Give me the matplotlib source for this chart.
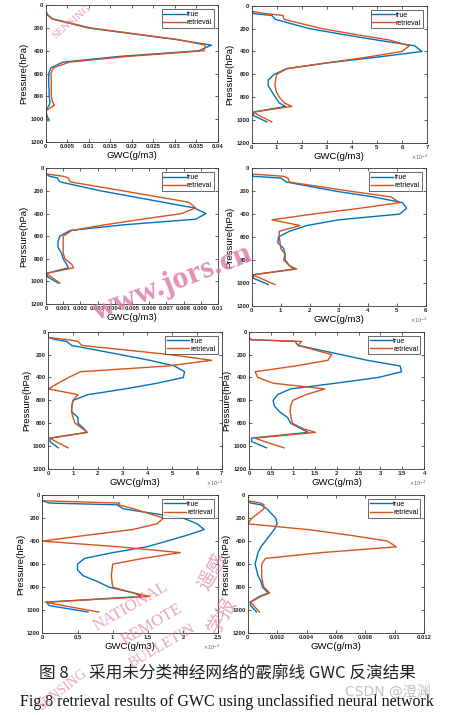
import matplotlib
matplotlib.use("Agg")
import matplotlib.pyplot as plt
from matplotlib.ticker import MultipleLocator, FuncFormatter

# pressure levels (hPa), shared by all panels
pres = [50, 70, 85, 120, 200, 250, 300, 350, 400, 450, 500, 550, 600, 650,
        700, 750, 800, 850, 880, 930, 960, 1015]

# GWC values (panels with x10^-3 are stored in axis units)
true1 = [0, 0.0002, 0.0004, 0.0015, 0.010, 0.020, 0.030, 0.0385, 0.0355, 0.017, 0.004,
         0.0012, 0.0007, 0.0007, 0.0007, 0.0008, 0.0008, 0.0010, 0.0008, 0.0, 0.0002, 0.0008]
retr1 = [0, 0.0003, 0.0005, 0.0017, 0.0105, 0.0205, 0.0305, 0.037, 0.0368, 0.019, 0.0055,
         0.0018, 0.0012, 0.0013, 0.0013, 0.0013, 0.0013, 0.0016, 0.0020, 0.0, 0.0, 0.0004]
true2 = [0, 0.1, 0.8, 0.95, 2.3, 3.6, 5.0, 6.5, 6.8, 5.0, 3.0,
         1.4, 0.9, 0.66, 0.66, 0.8, 0.95, 1.1, 1.35, 0.07, 0.07, 0.6]
retr2 = [0, 0.6, 1.25, 1.3, 2.8, 4.1, 5.5, 6.3, 6.0, 4.6, 3.0,
         1.4, 1.0, 0.95, 0.93, 0.98, 1.1, 1.3, 1.6, 0.07, 0.3, 0.8]
true3 = [0, 0.0002, 0.00066, 0.0008, 0.0032, 0.005, 0.0068, 0.0086, 0.0093, 0.0087, 0.0045,
         0.0014, 0.0008, 0.0007, 0.0007, 0.0009, 0.001, 0.0012, 0.0013, 0.0, 0.0001, 0.0007]
retr3 = [0, 0.001, 0.0013, 0.0014, 0.0045, 0.0064, 0.0083, 0.0087, 0.0079, 0.0056, 0.0034,
         0.0015, 0.001, 0.001, 0.001, 0.001, 0.0011, 0.0015, 0.0016, 0.0, 0.0003, 0.0008]
true4 = [0, 0.05, 1.0, 1.2, 2.9, 4.2, 5.2, 5.34, 5.1, 3.0, 1.9,
         1.3, 0.92, 0.9, 1.1, 1.15, 1.15, 1.3, 1.45, 0.06, 0.06, 0.57]
retr4 = [0, 1.1, 1.25, 1.3, 3.4, 4.8, 5.1, 3.7, 2.1, 0.7, 1.67,
         0.95, 0.95, 0.98, 1.0, 1.15, 1.1, 1.3, 1.55, 0.02, 0.3, 0.8]
true5 = [0, 0.3, 0.74, 0.94, 2.9, 4.1, 5.1, 5.5, 5.45, 4.4, 3.1,
         1.6, 1.0, 0.95, 0.94, 1.2, 1.2, 1.45, 1.57, 0.07, 0.07, 0.4]
retr5 = [0, 0.8, 1.2, 1.35, 4.9, 6.6, 4.8, 1.3, 0.82, 0.4, 0.0,
         1.2, 1.0, 0.95, 0.94, 1.0, 1.08, 1.4, 1.57, 0.07, 0.3, 0.8]
true6 = [0, 0.05, 1.05, 1.12, 2.1, 2.7, 3.45, 3.48, 2.95, 1.98, 0.95,
         0.65, 0.55, 0.58, 0.7, 0.88, 0.95, 1.2, 1.35, 0.06, 0.06, 0.4]
retr6 = [0, 0.05, 1.2, 1.12, 1.89, 1.8, 1.05, 0.14, 0.2, 0.55, 1.73,
         1.3, 1.0, 0.95, 0.94, 0.96, 0.99, 1.25, 1.52, 0.14, 0.35, 0.8]
true7 = [0, 0.1, 1.06, 1.15, 2.0, 2.2, 2.3, 2.05, 1.77, 1.48, 1.0,
         0.6, 0.5, 0.5, 0.58, 0.78, 0.95, 1.3, 1.41, 0.06, 0.1, 0.65]
retr7 = [0, 1.1, 1.08, 1.3, 1.72, 1.63, 1.28, 0.62, 0.0, 1.1, 1.96,
         1.43, 1.0, 0.99, 0.98, 0.99, 1.0, 1.3, 1.53, 0.04, 0.3, 0.8]
true8 = [0, 0.0002, 0.0009, 0.0013, 0.0019, 0.002, 0.0018, 0.0015, 0.0012, 0.0009, 0.0007,
         0.0006, 0.0005, 0.0006, 0.0007, 0.0009, 0.001, 0.0014, 0.0008, 0.00016, 0.0002, 0.0006]
retr8 = [0, 0.0009, 0.0011, 0.0011, 0.0003, 0.0, 0.0041, 0.007, 0.0095, 0.0101, 0.005,
         0.0012, 0.00095, 0.00095, 0.00095, 0.001, 0.0011, 0.0015, 0.0009, 0.0002, 0.0004, 0.0008]

trues = [true1, true2, true3, true4, true5, true6, true7, true8]
retrs = [retr1, retr2, retr3, retr4, retr5, retr6, retr7, retr8]
xmaxs = [0.04, 7, 0.01, 6, 7, 4, 2.5, 0.012]
xsteps = [0.005, 1, 0.001, 1, 1, 0.5, 0.5, 0.002]
sci = [False, True, False, True, True, True, True, False]
ylabels = ['Pressure(hPa)', 'Pressure(hPa)', 'Perssure(hPa)', 'Pressure(hPa)',
           'Pressure(hPa)', 'Pressure(hPa)', 'Pressure(hPa)', 'Pressure(hPa)']
legend_labels = ['true', 'retrieval']
caption_cn = '图 8　 采用未分类神经网络的霰廓线 GWC 反演结果'
caption_en = 'Fig.8 retrieval results of GWC using unclassified neural network'

W, H = 454, 715
# axes boxes in pixels: left, right, top, bottom
boxes = [(45.7, 218, 5.3, 141.7), (251.7, 427, 5.7, 143),
         (46, 218, 168.3, 304), (251.7, 425.7, 168.3, 305.7),
         (48.3, 221.7, 331.7, 469), (249, 424.3, 331.7, 469),
         (42.3, 218.3, 495, 633.3), (247.7, 424.3, 495, 633.3)]

BLUE = '#0072BD'
RED = '#D95319'
PINK = '#dc7fa8'
FONT = 'Liberation Sans'
CJK = ['Noto Sans CJK SC', 'DejaVu Sans']

fig = plt.figure(figsize=(W / 100, H / 100), dpi=100)
fig.patch.set_facecolor('white')

for i in range(8):
    l, r, t, b = boxes[i]
    ax = fig.add_axes([l / W, 1 - b / H, (r - l) / W, (b - t) / H])
    ax.plot(trues[i], pres, color=BLUE, lw=1.0, label=legend_labels[0])
    ax.plot(retrs[i], pres, color=RED, lw=1.0, label=legend_labels[1])
    ax.set_xlim(0, xmaxs[i])
    ax.set_ylim(1200, 0)
    ax.xaxis.set_major_locator(MultipleLocator(xsteps[i]))
    ax.yaxis.set_major_locator(MultipleLocator(200))
    ax.xaxis.set_major_formatter(FuncFormatter(lambda v, p: '%g' % round(v, 6)))
    ax.tick_params(direction='in', length=2, width=0.5, labelsize=4.2, pad=1.5,
                   top=True, right=True, colors='#222222')
    for lab in ax.get_xticklabels() + ax.get_yticklabels():
        lab.set_fontweight('bold')
        lab.set_fontfamily(FONT)
    for s in ax.spines.values():
        s.set_linewidth(0.6)
        s.set_color('#333333')
    ax.set_xlabel('GWC(g/m3)', fontsize=6.8, fontfamily=FONT, labelpad=1.5)
    ax.set_ylabel(ylabels[i], fontsize=6.8, fontfamily=FONT, labelpad=1.5)
    if sci[i]:
        ax.text(0.96, -0.105, r'$\times10^{-3}$', transform=ax.transAxes,
                fontsize=3.5, ha='center', va='center', color='#555555')
    leg = ax.legend(loc='upper right', frameon=True, fancybox=False,
                    handlelength=3.2, handletextpad=0.2, labelspacing=0.15,
                    borderpad=0.25, borderaxespad=0.6,
                    prop={'family': FONT, 'size': 5})
    leg.get_frame().set_edgecolor('#222222')
    leg.get_frame().set_linewidth(0.6)

# captions
fig.text(0.5, 1 - 673 / H, caption_cn, ha='center', va='center', fontsize=12,
         family=CJK, color='#222222')
fig.text(0.5, 1 - 702 / H, caption_en, ha='center', va='center', fontsize=11.5,
         family='Liberation Serif', color='#111111')

# journal watermarks
fig.text(72 / W, 1 - 22 / H, 'SENSING', rotation=40, ha='center', va='center',
         fontsize=8, family='Liberation Serif', color=PINK, alpha=0.8)
fig.text(173 / W, 1 - 283 / H, 'www.jors.cn', rotation=21, ha='center', va='center',
         fontsize=23, fontweight='bold', family='Liberation Serif', color=PINK, alpha=0.85)
fig.text(131 / W, 1 - 607 / H, 'NATIONAL', rotation=30, ha='center', va='center',
         fontsize=12, family='Liberation Serif', color=PINK, alpha=0.7)
fig.text(152 / W, 1 - 625 / H, 'REMOTE', rotation=30, ha='center', va='center',
         fontsize=12, family='Liberation Serif', color=PINK, alpha=0.7)
fig.text(162 / W, 1 - 646 / H, 'BULLETIN', rotation=30, ha='center', va='center',
         fontsize=11, family='Liberation Serif', color=PINK, alpha=0.7)
fig.text(62 / W, 1 - 690 / H, 'SENSING', rotation=38, ha='center', va='center',
         fontsize=10, family='Liberation Serif', color=PINK, alpha=0.7)
fig.text(212 / W, 1 - 572 / H, '遥感', rotation=60, ha='center', va='center',
         fontsize=14, family=CJK, color=PINK, alpha=0.7)
fig.text(222 / W, 1 - 615 / H, '学报', rotation=60, ha='center', va='center',
         fontsize=14, family=CJK, color=PINK, alpha=0.7)
fig.text(388 / W, 1 - 692 / H, 'CSDN @澄渊', ha='center', va='center', fontsize=10,
         family=['DejaVu Sans', 'Noto Sans CJK SC'], color='#bbbbbb', alpha=0.9)

fig.savefig('out.png', dpi=100)
